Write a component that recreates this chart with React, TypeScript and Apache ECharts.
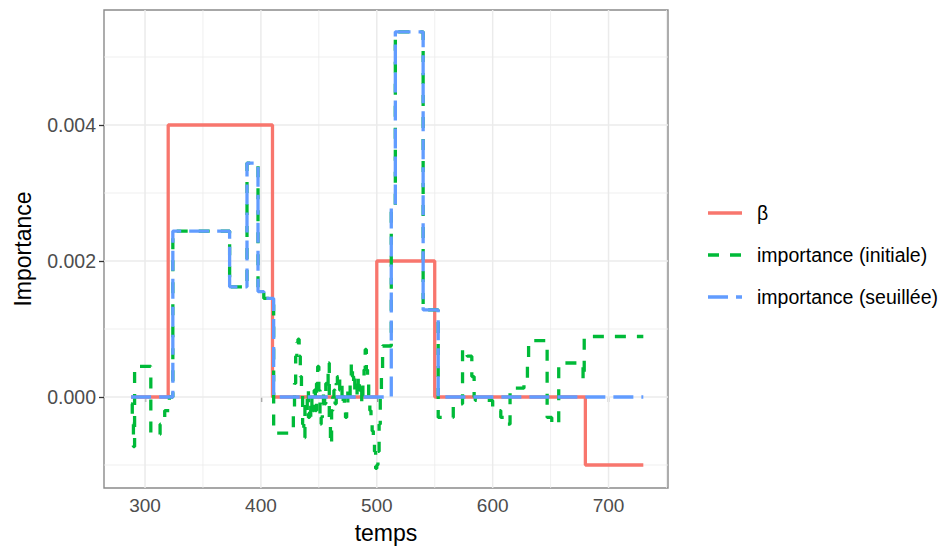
import React, { useEffect, useRef } from 'react';
import * as echarts from 'echarts';

const xTicks = [300, 400, 500, 600, 700];
const xMinor = [350, 450, 550, 650, 750];
const yTicks = [0, 0.002, 0.004];
const yMinor = [-0.001, 0.001, 0.003, 0.005];
const seriesNames = ['β', 'importance (initiale)', 'importance (seuillée)'];
const seriesColors = ['#F8766D', '#00BA38', '#619CFF'];

const betaPoints: [number, number][] = [
  [288, 0], [320, 0.004], [410, 0], [500, 0.002], [550, 0], [680, -0.001], [730, -0.001],
];

const seuilPoints: [number, number][] = [
  [288, 0], [324, 0.00244], [373, 0.00162], [388, 0.00344], [397.5, 0.00155], [402.5, 0.00145],
  [411, 0], [512.5, 0.00278], [516, 0.00537], [540, 0.00128], [553, 0], [730, 0],
];

const initPoints: [number, number][] = [
  [288, -0.0001], [289, -0.0004], [290, -0.00073], [291, 0.00045], [305, -0.00055], [313, -0.0004],
  [317, -0.0002], [321, 0], [324, 0.00244], [373, 0.00162], [388, 0.00344], [397.5, 0.00155],
  [402.5, 0.00145], [411, -0.00053], [428, -0.00025], [429, 0.0002], [430, 0.0006], [431, 0.0008],
  [432, 0.00085], [433, 0.0006], [434, 0.0003], [435, 0.0001], [436, -0.0004], [437, -0.0006],
  [438, -0.0001], [439, -0.0002], [440, 0.0001], [441, -0.0003], [442, -0.0001], [443, -0.0003],
  [444, 0], [445, -0.0002], [446, 0.0001], [447, -0.0002], [448, 0.0002], [449, 0.00045],
  [450, 0.0001], [451, -0.0004], [452, -0.0003], [453, -0.0001], [454, 0.0001], [455, -0.0001],
  [456, 0.0002], [457, 0.0001], [458, 0.0005], [459, -0.0003], [460, -0.0007], [461, -0.0002],
  [462, 0], [463, 0.0001], [464, -0.0001], [465, 0.0002], [466, 0.0003], [467, 0.00035],
  [468, 0.0001], [469, 0.0002], [470, -0.0001], [471, 0], [472, -0.0002], [473, -0.0003],
  [474, -0.0001], [475, 0.0001], [476, 0], [477, 0.0002], [478, 0.0005], [479, 0.0003],
  [480, 0.0001], [481, 0.0003], [482, 0.0002], [483, 0], [484, 0.0003], [485, 0.0001],
  [486, 0.0002], [487, -0.0001], [488, 0.0002], [489, 0.0004], [490, 0.0007], [491, 0.0004],
  [492, 0.0003], [493, 0], [494, -0.0002], [495, -0.0003], [496, -0.0005], [497, -0.0006],
  [498, -0.0008], [499, -0.00105], [500, -0.001], [501, -0.0008], [502, -0.0004], [503, 0],
  [504, 0.0004], [505, 0.00075], [512.5, 0.00278], [516, 0.00537], [540, 0.00128],
  [553, -0.0003], [566, -0.0001], [574, 0.0007], [578, 0.0006], [582, 0.0003], [584, 0],
  [585, -0.00005], [600, -0.0002], [607, -0.0003], [611, -0.0004], [615, 0.00013], [627, 0.00025],
  [630, 0.0005], [631, 0.00083], [647, -0.0003], [651, -0.0004], [657, 0.0005], [678, 0.00025],
  [679, 0.00089], [730, 0.00089],
];

const X_MIN = 264.6;
const X_MAX = 751.3;
const Y_MIN = -0.001338;
const Y_MAX = 0.005691;

const FONT = '"Liberation Sans", Arial, Helvetica, sans-serif';
const LW = 3.3;
const dashes: (number[] | 'solid')[] = ['solid', [11, 11], [20, 8]];

export default function App() {
  const ref = useRef<HTMLDivElement>(null);
  useEffect(() => {
    document.body.style.margin = '0';
    const chart = echarts.init(ref.current!, null, { renderer: 'svg' });
    const gridSeries = (pts: number[][], width: number) => ({
      type: 'line', data: pts, symbol: 'none', showSymbol: false, silent: true, z: 0,
      lineStyle: { color: '#EBEBEB', width, type: 'solid' },
      emphasis: { disabled: true },
    });
    const gridLines = [
      ...xMinor.map((v) => gridSeries([[v, Y_MIN], [v, Y_MAX]], 0.8)),
      ...yMinor.map((v) => gridSeries([[X_MIN, v], [X_MAX, v]], 0.8)),
      ...xTicks.map((v) => gridSeries([[v, Y_MIN], [v, Y_MAX]], 1.5)),
      ...yTicks.map((v) => gridSeries([[X_MIN, v], [X_MAX, v]], 1.5)),
    ];
    const pointSets = [betaPoints, initPoints, seuilPoints];
    const legendY = [213, 255, 297];
    const option: any = {
      animation: false,
      backgroundColor: '#ffffff',
      grid: {
        left: 104, top: 10, width: 564, height: 478,
        show: true, borderColor: '#8a8a8a', borderWidth: 1.4, backgroundColor: 'transparent',
      },
      xAxis: {
        type: 'value', min: X_MIN, max: X_MAX,
        axisLine: { show: false },
        splitLine: { show: false },
        axisTick: { show: true, customValues: xTicks, length: 5, lineStyle: { color: '#333333', width: 1.3 } },
        axisLabel: {
          customValues: xTicks, color: '#4D4D4D', fontSize: 19, fontFamily: FONT, margin: 8,
          formatter: (v: number) => String(v),
        },
      },
      yAxis: {
        type: 'value', min: Y_MIN, max: Y_MAX,
        axisLine: { show: false },
        splitLine: { show: false },
        axisTick: { show: true, customValues: yTicks, length: 5, lineStyle: { color: '#333333', width: 1.3 } },
        axisLabel: {
          customValues: yTicks, color: '#4D4D4D', fontSize: 19.5, fontFamily: FONT, margin: 8,
          formatter: (v: number) => v.toFixed(3),
        },
      },
      series: [
        ...gridLines,
        ...pointSets.map((pts, i) => ({
          name: seriesNames[i],
          type: 'line',
          step: 'end',
          data: pts,
          symbol: 'none',
          showSymbol: false,
          silent: true,
          z: 2 + i,
          lineStyle: { color: seriesColors[i], width: LW, type: dashes[i], cap: 'butt' },
        })),
      ],
      graphic: [
        {
          type: 'text', x: 23, y: 249, rotation: Math.PI / 2,
          style: {
            text: 'Importance', fill: '#000000', fontSize: 23, fontFamily: FONT,
            align: 'center', verticalAlign: 'middle', textAlign: 'center', textVerticalAlign: 'middle',
          },
        },
        {
          type: 'text', x: 386, y: 533,
          style: {
            text: 'temps', fill: '#000000', fontSize: 23, fontFamily: FONT,
            align: 'center', verticalAlign: 'middle', textAlign: 'center', textVerticalAlign: 'middle',
          },
        },
        ...seriesNames.flatMap((name, i) => [
          {
            type: 'line',
            shape: { x1: 708, y1: legendY[i], x2: 742, y2: legendY[i] },
            style: {
              stroke: seriesColors[i], lineWidth: LW,
              lineDash: dashes[i] === 'solid' ? null : dashes[i],
            },
          },
          {
            type: 'text', x: 757, y: legendY[i],
            style: {
              text: name, fill: '#000000', fontSize: 19.5, fontFamily: FONT,
              align: 'left', verticalAlign: 'middle', textAlign: 'left', textVerticalAlign: 'middle',
            },
          },
        ]),
      ],
    };
    chart.setOption(option);
    return () => chart.dispose();
  }, []);
  return <div ref={ref} style={{ width: 943, height: 546 }} />;
}
